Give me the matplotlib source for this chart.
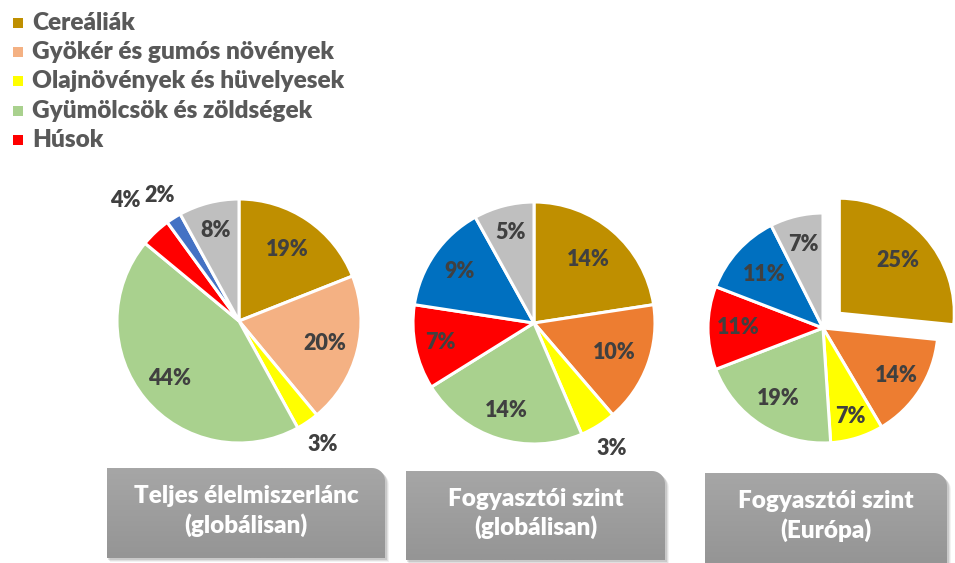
import numpy as np
import matplotlib
matplotlib.use("Agg")
import matplotlib.pyplot as plt
from matplotlib.path import Path
from matplotlib.patches import PathPatch, Rectangle

plt.rcParams["font.family"] = ["Lato", "DejaVu Sans"]

# ── Adatok ─────────────────────────────────────────────
kategoriak = ["Cereáliák", "Gyökér és gumós növények", "Olajnövények és hüvelyesek",
              "Gyümölcsök és zöldségek", "Húsok"]
teljes_lanc = [19, 20, 3, 44, 4, 2, 8]
fogy_global = [14, 10, 3, 14, 7, 9, 5]
fogy_europa = [25, 14, 7, 19, 11, 11, 7]
cimek = ["Teljes élelmiszerlánc\n(globálisan)",
         "Fogyasztói szint\n(globálisan)",
         "Fogyasztói szint\n(Európa)"]

szinek1 = ["#BF8F00", "#F4B183", "#FFFF00", "#A9D18E", "#FF0000", "#4472C4", "#BFBFBF"]
szinek2 = ["#BF8F00", "#ED7D31", "#FFFF00", "#A9D18E", "#FF0000", "#0070C0", "#BFBFBF"]

W, H = 955, 563
fig = plt.figure(figsize=(W / 100, H / 100), dpi=100)
ax = fig.add_axes([0, 0, 1, 1])
ax.set_xlim(0, W)
ax.set_ylim(0, H)
ax.set_aspect("equal")
ax.axis("off")

# pie: (adatok, színek, középpont képkoordinátában, sugár, címke-távolságok, kiemelés px)
pitek = [
    (teljes_lanc, szinek1, (239, 321), 122,
     [0.71, 0.73, 1.22, 0.74, 1.36, 1.22, 0.77], None),
    (fogy_global, szinek2, (534, 323), 121,
     [0.69, 0.71, 1.22, 0.76, 0.79, 0.75, 0.77], None),
    (fogy_europa, szinek2, (823, 328), 115,
     [0.69, 0.76, 0.81, 0.73, 0.74, 0.69, 0.75], [22, 0, 0, 0, 0, 0, 0]),
]

for ertekek, szinek, (cx, cy), r, tav, expl in pitek:
    cy = H - cy
    wedges, _ = ax.pie(ertekek, colors=szinek, startangle=90, counterclock=False,
                       center=(cx, cy), radius=r, explode=expl, frame=True,
                       wedgeprops=dict(edgecolor="white", linewidth=2.2))
    for w, v, d in zip(wedges, ertekek, tav):
        ang = np.deg2rad((w.theta1 + w.theta2) / 2)
        x0, y0 = w.center
        ax.text(x0 + d * r * np.cos(ang), y0 + d * r * np.sin(ang), f"{v}%",
                ha="center", va="center", fontsize=15.5, fontweight=800,
                color="#404040")

ax.set_xlim(0, W)
ax.set_ylim(0, H)
ax.axis("off")

# ── Jelmagyarázat ──────────────────────────────────────
for i, (kat, sz) in enumerate(zip(kategoriak, szinek1)):
    y = H - (23 + i * 29.2)
    ax.add_patch(Rectangle((13, y - 5), 10, 10, facecolor=sz, edgecolor="none"))
    ax.text(32, y, kat, ha="left", va="center", fontsize=17.6, fontweight=800,
            color="#595959")

# ── Címdobozok ─────────────────────────────────────────
def doboz(x0, y0, x1, y1, rr=13):
    t = np.linspace(np.pi / 2, 0, 12)
    pts = [(x0, y0), (x0, y1)] + [(x1 - rr + rr * np.cos(a), y1 - rr + rr * np.sin(a)) for a in t] \
        + [(x1, y0), (x0, y0)]
    return Path(pts, [Path.MOVETO] + [Path.LINETO] * (len(pts) - 2) + [Path.CLOSEPOLY])

dobozok = [(107, 468, 385, 558), (406, 471, 665, 560), (705, 473, 947, 563)]
for (x0, yt, x1, yb), cim in zip(dobozok, cimek):
    y0, y1 = H - yb, H - yt
    for k, a in enumerate([0.10, 0.07, 0.05]):
        sh = PathPatch(doboz(x0 + 1 + k, y0 - 2 - k, x1 + 2 + k, y1 - 2 - k),
                       facecolor="black", edgecolor="none", alpha=a)
        ax.add_patch(sh)
    p = PathPatch(doboz(x0, y0, x1, y1), facecolor="none", edgecolor="none")
    ax.add_patch(p)
    grad = np.linspace(0, 1, 64).reshape(-1, 1)
    im = ax.imshow(grad, extent=(x0, x1, y0, y1), origin="lower",
                   cmap=matplotlib.colors.LinearSegmentedColormap.from_list(
                       "g", ["#959595", "#a6a6a6"]), aspect="auto", zorder=2)
    im.set_clip_path(p)
    ax.text((x0 + x1) / 2, (y0 + y1) / 2 + 2, cim, ha="center", va="center",
            fontsize=17.5, fontweight=800, color="white", linespacing=1.3, zorder=3)

ax.set_xlim(0, W)
ax.set_ylim(0, H)
fig.savefig("out.png", dpi=100)
